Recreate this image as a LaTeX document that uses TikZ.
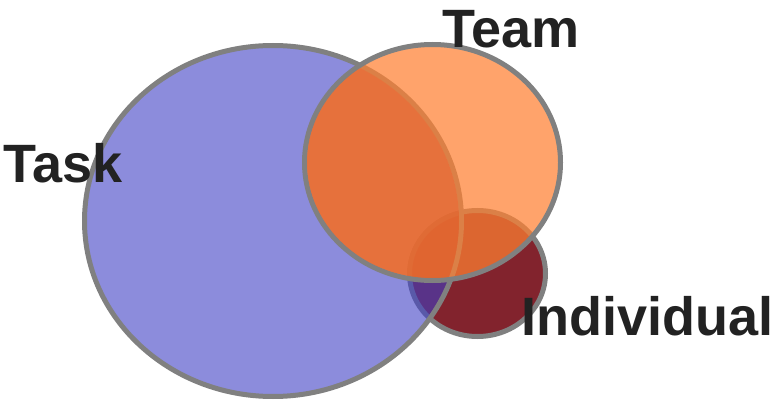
\documentclass[tikz,border=0pt]{standalone}
\usepackage{fontspec}
\setmainfont{Liberation Sans}
\usetikzlibrary{shapes.geometric}

\definecolor{taskblue}{RGB}{63,63,197}
\definecolor{teamorange}{RGB}{255,128,50}
\definecolor{overlaporange}{RGB}{240,98,25}
\definecolor{indivred}{RGB}{130,35,45}
\definecolor{rimgray}{RGB}{128,128,128}
\definecolor{labelgray}{RGB}{34,34,34}

\begin{document}
\begin{tikzpicture}[
	x=1pt, y=-1pt,
	setshape/.style={ellipse, draw=rimgray, line width=5pt, inner sep=0pt},
	setlabel/.style={anchor=base west, inner sep=0pt, text=labelgray,
		font=\fontsize{54}{60}\selectfont\bfseries}
	]
	
	% Canvas
	\useasboundingbox (0,0) rectangle (772,401);
	
	% Sets (individual lies underneath the other two)
	\node[setshape, fill=indivred, minimum width=136pt, minimum height=126pt] (individual) at (477.5,273.5) {};
	\node[setshape, fill=taskblue, fill opacity=0.6, minimum width=377pt, minimum height=351pt] (task) at (273,221) {};
	\node[setshape, fill=teamorange, fill opacity=0.72, minimum width=256pt, minimum height=236pt] (team) at (432.5,162.5) {};
	
	% Deeper orange where task and team overlap
	\begin{scope}
		\clip (task.center) ellipse [x radius=186pt, y radius=173pt];
		\fill[overlaporange, fill opacity=0.5] (team.center) ellipse [x radius=125.5pt, y radius=115.5pt];
	\end{scope}
	
	% Labels
	\node[setlabel] (tasklabel) at (3,183) {Task};
	\node[setlabel] (teamlabel) at (442,48) {Team};
	\node[setlabel] (indivlabel) at (521,335) {Individual};
	
\end{tikzpicture}
\end{document}
